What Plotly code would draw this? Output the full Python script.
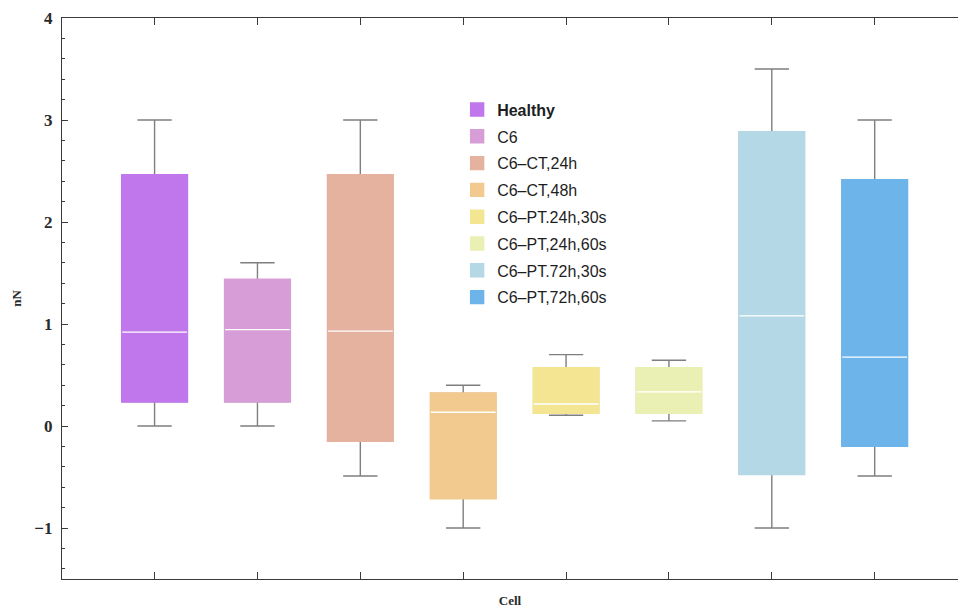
import plotly.graph_objects as go

# Cell groups and their box-plot statistics (force, nN)
cells = ["Healthy", "C6", "C6–CT,24h", "C6–CT,48h",
         "C6–PT.24h,30s", "C6–PT,24h,60s", "C6–PT.72h,30s", "C6–PT,72h,60s"]
lower_fence = [0.0, 0.0, -0.49, -1.0, 0.105, 0.05, -1.0, -0.49]
q1 = [0.24, 0.24, -0.145, -0.71, 0.13, 0.13, -0.47, -0.195]
median = [0.92, 0.945, 0.93, 0.135, 0.215, 0.335, 1.08, 0.675]
q3 = [2.46, 1.435, 2.46, 0.32, 0.567, 0.567, 2.88, 2.41]
upper_fence = [3.0, 1.6, 3.0, 0.40, 0.70, 0.645, 3.5, 3.0]
colors = ["#c077ec", "#d69dd6", "#e5b2a0", "#f2c98f",
          "#f3e592", "#eaf0b4", "#b4d8e6", "#6cb4ea"]

positions = list(range(1, len(cells) + 1))
box_w = 0.63
whisker_color = "#7f7f7f"

fig = go.Figure()

# Whiskers (gray), drawn first so the filled boxes sit on top
for i, pos in enumerate(positions):
    fig.add_trace(go.Box(
        x=[pos], q1=[q1[i]], median=[median[i]], q3=[q3[i]],
        lowerfence=[lower_fence[i]], upperfence=[upper_fence[i]],
        width=box_w, whiskerwidth=0.53,
        line=dict(color=whisker_color, width=1.4),
        fillcolor="rgba(0,0,0,0)", showlegend=False, hoverinfo="skip",
    ))

# Filled interquartile boxes (one legend entry per cell group)
for i, pos in enumerate(positions):
    label = "<b>%s</b>" % cells[i] if i == 0 else cells[i]
    fig.add_trace(go.Box(
        x=[pos], q1=[q1[i]], median=[median[i]], q3=[q3[i]],
        lowerfence=[q1[i]], upperfence=[q3[i]],
        width=box_w, whiskerwidth=0,
        line=dict(color=colors[i], width=2.4),
        fillcolor=colors[i], name=label, legendgroup=cells[i],
    ))

# White median lines
for i, pos in enumerate(positions):
    m = median[i]
    fig.add_trace(go.Box(
        x=[pos], q1=[m], median=[m], q3=[m], lowerfence=[m], upperfence=[m],
        width=box_w, whiskerwidth=0,
        line=dict(color="white", width=1.4),
        fillcolor="rgba(0,0,0,0)", showlegend=False, hoverinfo="skip",
    ))

axis_color = "#3a3a3a"
serif_bold = dict(family="Liberation Serif", size=17, color="#2a2a2a", weight="bold")

fig.update_layout(
    width=958, height=608,
    margin=dict(l=62, r=0, t=18, b=29),
    paper_bgcolor="white", plot_bgcolor="white",
    boxmode="overlay",
    showlegend=True,
    legend=dict(
        x=0.441, y=0.867, xanchor="left", yanchor="top",
        bgcolor="rgba(255,255,255,0)",
        font=dict(family="Liberation Sans", size=16, color="#1e1e1e"),
        tracegroupgap=3,
    ),
    xaxis=dict(
        range=[0.1, 8.81],
        tickvals=positions, ticktext=[""] * len(positions),
        ticks="inside", ticklen=7, tickwidth=1.3, tickcolor=axis_color,
        showline=True, linecolor=axis_color, linewidth=1.3,
        mirror="ticks", showgrid=False, zeroline=False,
        title=dict(text="Cell", standoff=14,
                   font=dict(family="Liberation Serif", size=13,
                             color="#2a2a2a", weight="bold")),
    ),
    yaxis=dict(
        range=[-1.5, 4],
        tickvals=[-1, 0, 1, 2, 3, 4],
        ticks="inside", ticklen=6, tickwidth=1.3, tickcolor=axis_color,
        minor=dict(dtick=0.2, ticks="inside", ticklen=3, tickcolor=axis_color,
                   tickwidth=1),
        showline=True, linecolor=axis_color, linewidth=1.3,
        showgrid=False, zeroline=False,
        tickfont=serif_bold, ticklabelstandoff=5,
        title=dict(text="nN", standoff=9,
                   font=dict(family="Liberation Serif", size=13,
                             color="#2a2a2a", weight="bold")),
    ),
)

fig.write_html("out.html")
